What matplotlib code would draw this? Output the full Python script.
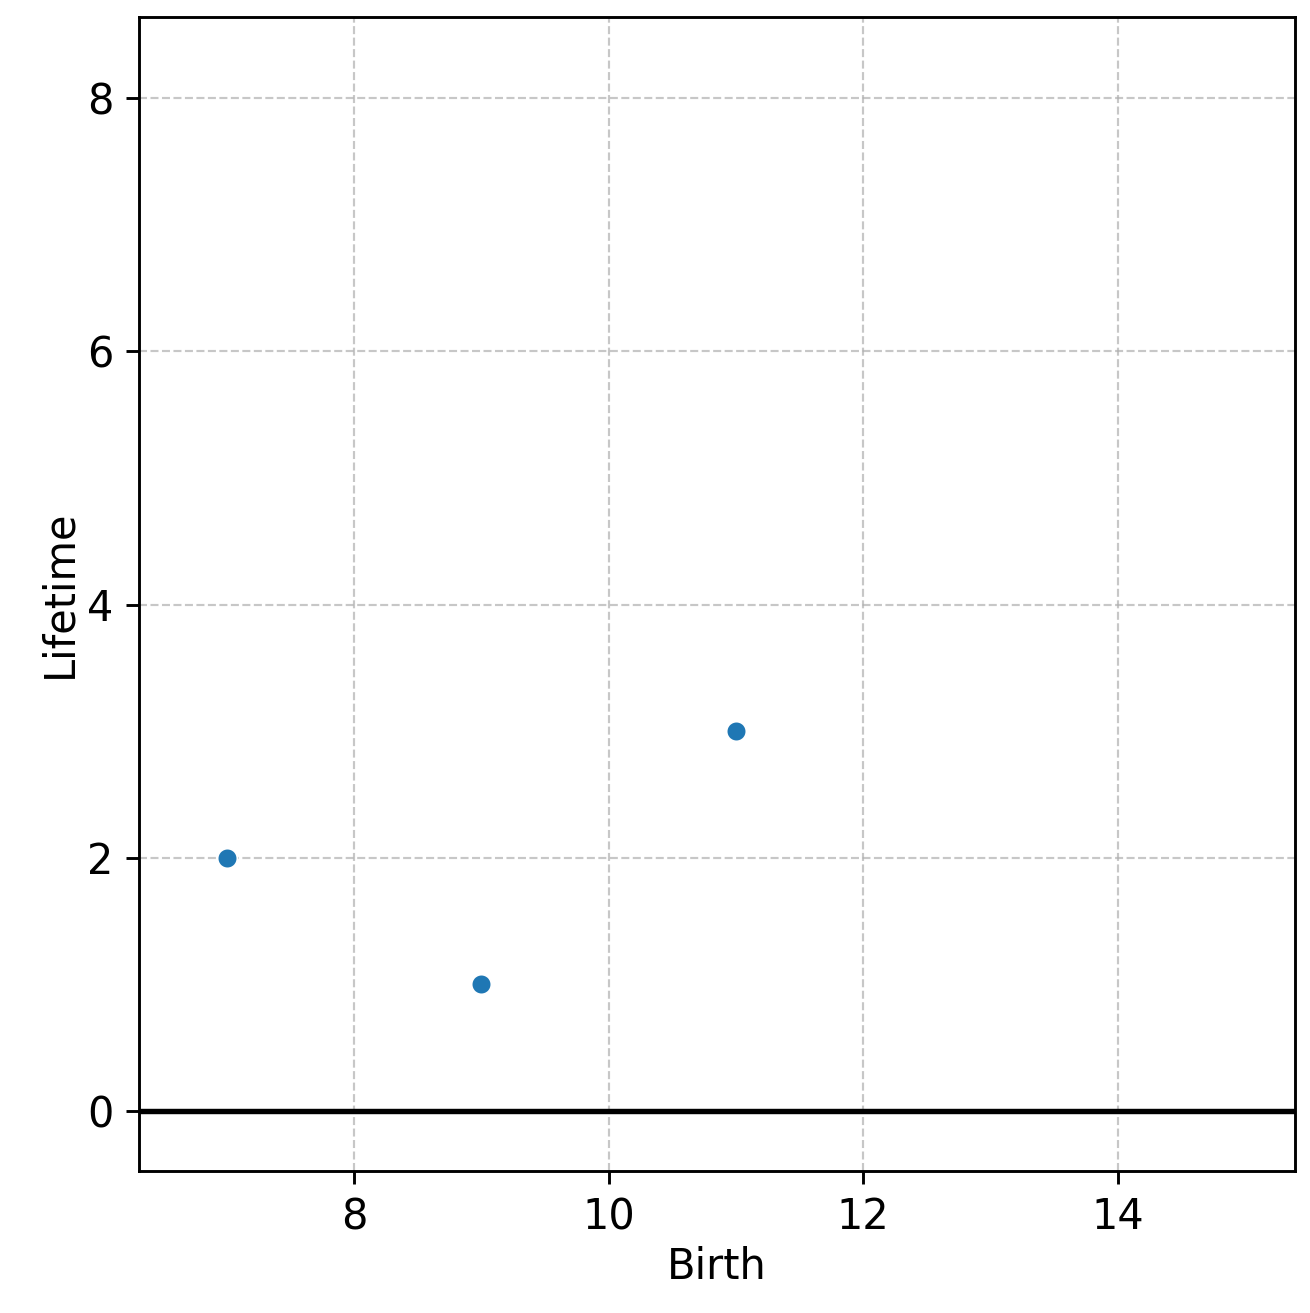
import matplotlib
matplotlib.use('Agg')
import matplotlib.pyplot as plt

# Persistence points
birth = [7, 9, 11]
lifetime = [2, 1, 3]

plt.rcParams['font.size'] = 11.5

fig = plt.figure(figsize=(5.04, 5.05), dpi=260)
ax = fig.add_axes([0.106, 0.108, 0.882, 0.879])

ax.scatter(birth, lifetime, s=30, color='#1f77b4', edgecolors='white', linewidths=0.5, zorder=3)
ax.axhline(0, color='black', linewidth=1.5, zorder=2)

ax.set_xlim(6.31, 15.39)
ax.set_ylim(-0.475, 8.64)
ax.set_xticks([8, 10, 12, 14])
ax.set_yticks([0, 2, 4, 6, 8])
ax.grid(True, linestyle='--', color='#b0b0b0', alpha=0.7, linewidth=0.6)
ax.set_xlabel('Birth', labelpad=2)
ax.set_ylabel('Lifetime', labelpad=2)

plt.savefig('out.png', dpi=260)
